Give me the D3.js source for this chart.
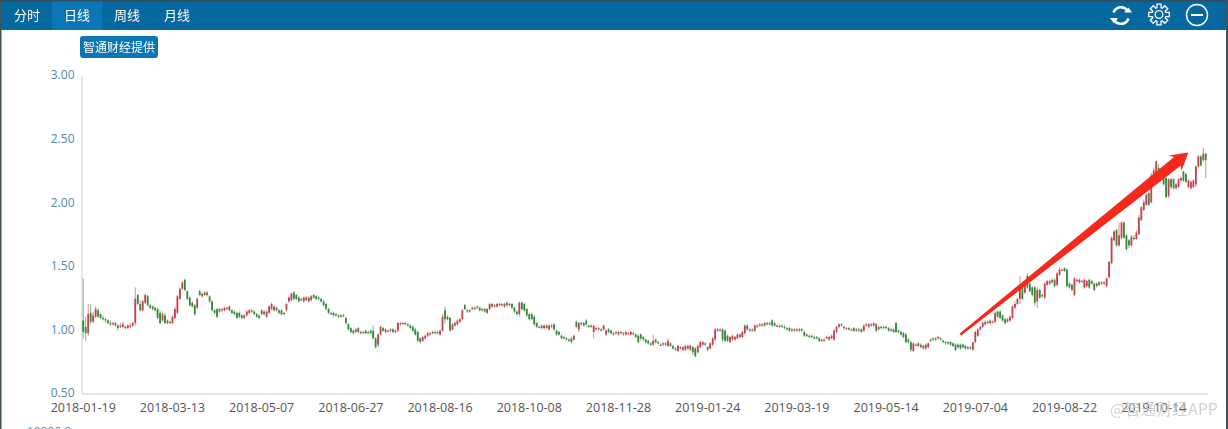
<!DOCTYPE html>
<html>
<head>
<meta charset="utf-8">
<script src="https://cdn.jsdelivr.net/npm/d3@7/dist/d3.min.js"></script>
<style>
html,body{margin:0;padding:0;background:#fff;overflow:hidden;}
#chart{width:1228px;height:429px;}
svg{display:block;font-family:"Noto Sans CJK SC","Open Sans",sans-serif;}
</style>
</head>
<body>
<div id="chart"></div>
<script>
var tabs = ["分时", "日线", "周线", "月线"];
var yTicks = [0.5, 1, 1.5, 2, 2.5, 3];
var dateLabels = ["2018-01-19","2018-03-13","2018-05-07","2018-06-27","2018-08-16","2018-10-08","2018-11-28",
    "2019-01-24","2019-03-19","2019-05-14","2019-07-04","2019-08-22","2019-10-14"];

// 20 candles per row
var opens = [
1.07,1.02,0.97,1.13,1.06,1.10,1.15,1.12,1.09,1.08,1.07,1.05,1.04,1.03,1.03,1.02,1.02,1.01,1.01,1.02,
1.03,1.05,1.27,1.20,1.15,1.21,1.26,1.19,1.18,1.17,1.16,1.13,1.07,1.11,1.07,1.05,1.05,1.09,1.13,1.24,
1.32,1.39,1.30,1.25,1.21,1.19,1.17,1.30,1.26,1.29,1.27,1.26,1.22,1.15,1.16,1.14,1.15,1.15,1.16,1.18,
1.15,1.14,1.13,1.13,1.11,1.09,1.11,1.13,1.15,1.14,1.12,1.11,1.12,1.14,1.10,1.13,1.16,1.18,1.15,1.15,
1.15,1.13,1.15,1.22,1.23,1.29,1.27,1.25,1.23,1.22,1.25,1.22,1.23,1.27,1.26,1.25,1.24,1.22,1.20,1.16,
1.13,1.13,1.12,1.11,1.11,1.11,1.09,1.04,1.01,0.99,0.98,1.01,0.97,0.97,0.99,0.98,0.99,0.99,0.93,0.88,
0.96,1.01,0.98,0.99,1.00,0.98,0.99,0.99,1.04,1.04,1.05,1.04,1.03,1.02,1.00,0.98,0.93,0.91,0.93,0.95,
0.96,0.98,0.97,0.98,0.96,0.99,1.15,1.10,1.09,1.00,1.03,1.04,1.06,1.08,1.19,1.15,1.14,1.16,1.17,1.17,
1.17,1.16,1.16,1.13,1.16,1.20,1.18,1.18,1.19,1.20,1.18,1.21,1.19,1.20,1.17,1.14,1.12,1.21,1.20,1.16,
1.12,1.12,1.10,1.05,1.02,1.03,1.01,1.03,1.00,1.02,1.04,0.99,0.98,0.95,0.94,0.93,0.92,0.93,0.92,1.06,
1.00,1.04,1.05,1.07,1.03,1.03,0.98,1.00,1.00,1.00,1.00,0.96,1.00,0.99,0.97,0.97,0.96,0.98,0.96,0.96,
0.97,0.96,0.97,0.96,0.95,0.96,0.94,0.92,0.91,0.89,0.88,0.92,0.90,0.88,0.89,0.88,0.87,0.89,0.87,0.85,
0.83,0.85,0.84,0.84,0.85,0.84,0.86,0.85,0.82,0.86,0.88,0.89,0.86,0.85,0.88,0.92,0.99,0.99,1.00,0.99,
0.95,0.90,0.92,0.92,0.93,0.94,0.94,0.97,1.03,0.99,1.00,0.99,1.02,1.03,1.04,1.03,1.05,1.04,1.07,1.05,
1.03,1.02,1.03,1.02,1.01,1.01,1.00,0.99,0.99,1.00,1.00,0.98,0.96,0.95,0.95,0.94,0.94,0.93,0.92,0.91,
0.93,0.92,0.93,0.92,0.98,1.02,1.04,1.02,1.01,1.01,1.00,1.01,1.00,0.99,1.00,0.99,1.03,1.02,1.04,1.03,
1.04,1.00,1.02,1.01,1.02,1.01,1.00,1.00,1.05,0.99,0.98,0.97,0.96,0.92,0.90,0.83,0.88,0.89,0.86,0.87,
0.85,0.86,0.92,0.92,0.92,0.93,0.93,0.91,0.90,0.90,0.90,0.89,0.88,0.88,0.88,0.88,0.87,0.86,0.86,0.84,
0.90,0.95,1.00,1.02,1.04,1.06,1.05,1.06,1.06,1.14,1.14,1.11,1.08,1.06,1.07,1.09,1.17,1.20,1.24,1.33,
1.29,1.42,1.36,1.33,1.33,1.22,1.31,1.27,1.25,1.35,1.36,1.37,1.39,1.35,1.43,1.47,1.48,1.47,1.36,1.35,
1.27,1.38,1.37,1.38,1.33,1.34,1.39,1.38,1.36,1.34,1.37,1.36,1.36,1.34,1.41,1.52,1.70,1.78,1.66,1.72,
1.84,1.74,1.70,1.66,1.72,1.71,1.75,1.86,1.94,1.98,2.07,2.00,2.20,2.23,2.27,2.24,2.22,2.19,2.05,2.18,
2.18,2.11,2.12,2.17,2.24,2.22,2.12,2.11,2.12,2.14,2.28,2.36,2.33,2.38
];
var closes = [
0.98,0.97,1.12,1.06,1.11,1.16,1.10,1.09,1.08,1.07,1.05,1.04,1.05,1.05,1.01,1.03,1.04,1.02,1.03,1.03,
1.05,1.24,1.20,1.15,1.22,1.27,1.19,1.17,1.16,1.15,1.09,1.05,1.12,1.05,1.05,1.06,1.10,1.16,1.26,1.32,
1.37,1.31,1.24,1.19,1.18,1.12,1.24,1.27,1.28,1.27,1.29,1.22,1.15,1.13,1.10,1.16,1.16,1.17,1.17,1.15,
1.13,1.12,1.09,1.10,1.09,1.11,1.14,1.15,1.14,1.12,1.10,1.09,1.15,1.12,1.14,1.18,1.20,1.15,1.17,1.13,
1.12,1.12,1.20,1.25,1.28,1.24,1.24,1.22,1.24,1.25,1.23,1.25,1.26,1.25,1.24,1.24,1.22,1.19,1.16,1.13,
1.12,1.11,1.11,1.10,1.10,1.11,1.05,1.00,0.98,0.97,1.00,0.98,0.98,0.98,0.97,0.97,0.97,0.93,0.86,0.96,
1.02,0.99,1.00,0.99,0.99,1.00,0.98,1.05,1.05,1.05,1.04,1.03,1.01,0.99,0.96,0.91,0.90,0.94,0.95,0.97,
0.97,0.97,0.98,0.97,0.99,1.10,1.08,1.08,0.99,1.04,1.05,1.07,1.08,1.15,1.16,1.14,1.15,1.17,1.16,1.18,
1.15,1.15,1.14,1.16,1.20,1.18,1.19,1.20,1.20,1.19,1.20,1.19,1.20,1.17,1.14,1.12,1.21,1.16,1.15,1.11,
1.08,1.08,1.04,1.02,1.02,1.01,1.03,1.01,1.03,1.03,1.00,0.96,0.96,0.93,0.93,0.92,0.91,0.90,0.95,1.02,
1.05,1.05,1.03,1.04,1.02,1.02,1.03,1.01,1.01,0.99,1.03,0.99,0.98,0.97,0.96,0.98,0.98,0.97,0.97,0.98,
0.97,0.98,0.96,0.94,0.90,0.93,0.92,0.90,0.89,0.88,0.91,0.90,0.89,0.88,0.89,0.89,0.91,0.87,0.85,0.84,
0.87,0.86,0.86,0.87,0.87,0.87,0.82,0.79,0.87,0.90,0.90,0.88,0.84,0.89,0.93,1.00,1.00,1.00,0.92,0.91,
0.91,0.94,0.95,0.94,0.96,0.96,0.98,1.03,1.00,1.00,0.99,1.03,1.03,1.04,1.03,1.05,1.04,1.05,1.03,1.03,
1.03,1.03,1.02,1.01,1.00,0.99,0.99,1.00,1.00,0.99,0.99,0.95,0.95,0.94,0.94,0.93,0.93,0.91,0.91,0.92,
0.94,0.94,0.95,0.99,1.02,1.04,1.03,1.01,1.01,1.00,1.00,0.99,0.99,1.00,0.98,1.03,1.04,1.04,1.03,1.05,
0.99,1.02,1.01,1.02,1.01,0.99,0.99,0.98,0.98,0.98,0.96,0.94,0.90,0.90,0.84,0.89,0.88,0.87,0.88,0.85,
0.88,0.89,0.91,0.93,0.93,0.94,0.92,0.90,0.89,0.89,0.88,0.87,0.84,0.86,0.85,0.86,0.85,0.85,0.85,0.90,
0.98,1.00,1.02,1.05,1.06,1.05,1.07,1.06,1.13,1.10,1.09,1.07,1.05,1.08,1.10,1.18,1.20,1.24,1.35,1.24,
1.37,1.33,1.30,1.27,1.21,1.31,1.25,1.26,1.36,1.38,1.38,1.39,1.34,1.44,1.47,1.47,1.46,1.34,1.33,1.31,
1.40,1.39,1.39,1.38,1.39,1.38,1.33,1.36,1.31,1.36,1.35,1.37,1.37,1.40,1.53,1.72,1.77,1.66,1.74,1.84,
1.72,1.63,1.66,1.73,1.71,1.76,1.88,1.96,2.00,2.06,1.98,2.21,2.25,2.32,2.22,2.20,2.14,2.04,2.18,2.12,
2.11,2.14,2.18,2.19,2.17,2.16,2.17,2.16,2.17,2.28,2.36,2.29,2.38,2.33
];
var highs = [
1.40,1.10,1.20,1.20,1.14,1.18,1.17,1.13,1.11,1.09,1.08,1.07,1.06,1.06,1.04,1.05,1.06,1.03,1.04,1.05,
1.06,1.33,1.28,1.23,1.23,1.28,1.27,1.20,1.19,1.18,1.17,1.15,1.14,1.13,1.08,1.07,1.11,1.18,1.27,1.33,
1.38,1.40,1.31,1.26,1.22,1.20,1.25,1.31,1.29,1.30,1.30,1.27,1.23,1.16,1.17,1.17,1.17,1.18,1.18,1.19,
1.16,1.15,1.14,1.14,1.12,1.12,1.15,1.16,1.16,1.15,1.13,1.12,1.16,1.15,1.15,1.19,1.21,1.19,1.18,1.16,
1.16,1.14,1.21,1.26,1.29,1.30,1.28,1.26,1.25,1.26,1.26,1.26,1.27,1.28,1.27,1.26,1.25,1.23,1.21,1.17,
1.14,1.14,1.13,1.12,1.12,1.12,1.10,1.05,1.02,1.00,1.01,1.02,0.99,0.99,1.00,0.99,1.00,1.03,0.94,0.97,
1.03,1.02,1.01,1.00,1.01,1.01,1.00,1.06,1.06,1.06,1.06,1.05,1.04,1.03,1.01,0.99,0.94,0.95,0.96,0.98,
0.98,0.99,0.99,0.99,1.00,1.12,1.18,1.11,1.10,1.05,1.06,1.08,1.09,1.16,1.20,1.16,1.16,1.18,1.18,1.19,
1.18,1.17,1.17,1.17,1.21,1.21,1.20,1.21,1.21,1.21,1.21,1.22,1.21,1.21,1.18,1.15,1.22,1.22,1.21,1.17,
1.13,1.13,1.11,1.06,1.03,1.04,1.04,1.04,1.04,1.04,1.05,1.00,0.99,0.96,0.95,0.94,0.93,0.94,0.96,1.07,
1.06,1.06,1.06,1.08,1.04,1.04,1.03,1.02,1.02,1.01,1.04,1.00,1.01,1.00,0.98,0.99,0.99,0.99,0.98,0.99,
0.98,0.99,0.98,0.97,0.96,0.97,0.95,0.93,0.92,0.90,0.96,0.93,0.91,0.89,0.90,0.90,0.93,0.90,0.88,0.86,
0.88,0.87,0.87,0.88,0.88,0.88,0.87,0.86,0.88,0.91,0.91,0.90,0.87,0.90,0.94,1.01,1.01,1.01,1.01,1.00,
0.96,0.95,0.96,0.95,0.97,0.97,0.99,1.04,1.04,1.01,1.01,1.04,1.04,1.05,1.05,1.06,1.06,1.06,1.08,1.06,
1.04,1.04,1.04,1.03,1.02,1.02,1.01,1.01,1.01,1.01,1.01,0.99,0.97,0.96,0.96,0.95,0.95,0.94,0.93,0.93,
0.95,0.95,0.96,1.00,1.03,1.05,1.05,1.03,1.02,1.02,1.01,1.02,1.01,1.01,1.01,1.04,1.05,1.05,1.05,1.06,
1.05,1.03,1.03,1.03,1.03,1.02,1.01,1.01,1.06,1.00,0.99,0.98,0.97,0.93,0.91,0.90,0.89,0.90,0.89,0.88,
0.89,0.90,0.93,0.94,0.94,0.95,0.94,0.92,0.91,0.91,0.91,0.90,0.89,0.89,0.89,0.89,0.88,0.87,0.87,0.90,
0.99,1.01,1.03,1.06,1.07,1.07,1.08,1.07,1.14,1.15,1.15,1.12,1.09,1.09,1.11,1.19,1.22,1.25,1.42,1.36,
1.38,1.44,1.37,1.34,1.34,1.33,1.32,1.28,1.37,1.39,1.39,1.40,1.40,1.45,1.49,1.48,1.49,1.48,1.37,1.36,
1.41,1.40,1.40,1.39,1.40,1.39,1.40,1.39,1.37,1.37,1.38,1.38,1.38,1.41,1.54,1.73,1.78,1.79,1.84,1.85,
1.85,1.75,1.71,1.74,1.74,1.78,1.90,1.97,2.02,2.07,2.08,2.23,2.27,2.33,2.30,2.25,2.23,2.20,2.19,2.19,
2.19,2.15,2.19,2.20,2.25,2.23,2.18,2.17,2.18,2.29,2.37,2.37,2.43,2.39
];
var lows = [
0.93,0.91,0.95,1.04,1.05,1.09,1.09,1.08,1.07,1.05,1.04,1.03,1.03,1.02,0.99,1.01,1.01,1.00,1.00,1.01,
1.02,1.03,1.19,1.14,1.14,1.20,1.18,1.16,1.15,1.14,1.08,1.04,1.06,1.04,1.04,1.04,1.04,1.08,1.12,1.23,
1.31,1.30,1.23,1.18,1.17,1.11,1.16,1.26,1.25,1.26,1.26,1.21,1.14,1.12,1.09,1.13,1.14,1.14,1.15,1.14,
1.12,1.11,1.08,1.09,1.08,1.08,1.10,1.12,1.13,1.11,1.09,1.08,1.11,1.11,1.09,1.12,1.15,1.14,1.14,1.12,
1.11,1.11,1.14,1.21,1.22,1.23,1.23,1.21,1.22,1.21,1.22,1.21,1.22,1.24,1.23,1.23,1.21,1.18,1.15,1.12,
1.11,1.10,1.10,1.09,1.09,1.10,1.04,0.99,0.97,0.96,0.97,0.97,0.96,0.96,0.96,0.96,0.96,0.92,0.85,0.86,
0.95,0.98,0.97,0.98,0.98,0.97,0.97,0.98,1.03,1.04,1.03,1.02,1.00,0.98,0.95,0.90,0.89,0.90,0.92,0.94,
0.95,0.96,0.96,0.96,0.95,0.98,1.05,1.07,0.98,0.99,1.02,1.03,1.05,1.07,1.15,1.13,1.13,1.15,1.15,1.16,
1.14,1.14,1.13,1.12,1.15,1.17,1.17,1.17,1.18,1.18,1.17,1.18,1.18,1.16,1.13,1.11,1.10,1.15,1.14,1.10,
1.07,1.07,1.03,1.01,1.01,1.00,1.00,1.00,0.99,1.01,0.99,0.95,0.95,0.92,0.92,0.91,0.90,0.89,0.91,1.01,
0.98,1.03,1.02,1.02,1.01,1.01,0.93,0.99,0.99,0.98,0.99,0.95,0.97,0.96,0.95,0.96,0.95,0.96,0.95,0.95,
0.96,0.95,0.95,0.93,0.89,0.91,0.91,0.89,0.88,0.87,0.87,0.89,0.88,0.87,0.87,0.87,0.86,0.86,0.84,0.83,
0.82,0.84,0.83,0.83,0.84,0.83,0.80,0.78,0.81,0.85,0.87,0.87,0.83,0.84,0.87,0.91,0.98,0.98,0.90,0.90,
0.90,0.89,0.91,0.91,0.92,0.93,0.93,0.96,0.99,0.98,0.98,0.98,1.01,1.02,1.02,1.02,1.03,1.03,1.02,1.02,
1.02,1.01,1.01,1.00,0.99,0.98,0.98,0.98,0.98,0.98,0.98,0.94,0.94,0.93,0.93,0.92,0.92,0.90,0.90,0.90,
0.92,0.91,0.92,0.91,0.97,1.01,1.02,1.00,1.00,0.99,0.99,0.98,0.98,0.98,0.97,0.98,1.02,1.01,1.02,1.02,
0.98,0.99,1.00,1.00,1.00,0.98,0.98,0.97,0.97,0.97,0.95,0.93,0.89,0.89,0.82,0.82,0.87,0.86,0.85,0.84,
0.84,0.85,0.90,0.91,0.91,0.92,0.91,0.89,0.88,0.88,0.87,0.86,0.83,0.85,0.84,0.85,0.84,0.84,0.84,0.83,
0.89,0.94,0.99,1.01,1.03,1.04,1.04,1.05,1.05,1.09,1.08,1.06,1.04,1.05,1.06,1.08,1.16,1.19,1.20,1.23,
1.28,1.32,1.29,1.26,1.19,1.17,1.24,1.25,1.24,1.34,1.35,1.36,1.33,1.34,1.42,1.46,1.45,1.33,1.32,1.30,
1.26,1.37,1.36,1.37,1.32,1.33,1.32,1.35,1.30,1.33,1.34,1.35,1.35,1.33,1.40,1.51,1.69,1.65,1.65,1.71,
1.71,1.62,1.64,1.65,1.70,1.70,1.74,1.85,1.93,1.97,1.97,1.99,2.19,2.22,2.21,2.19,2.13,2.03,2.03,2.10,
2.10,2.10,2.11,2.15,2.16,2.15,2.11,2.10,2.11,2.12,2.27,2.28,2.32,2.19
];

// trend arrow drawn over the candles, in index / price terms
var arrowFrom = {index: 354, price: 0.96};
var arrowTo = {index: 446, price: 2.39};

var red = "#c4404a", green = "#33883a", blue = "#0a76b5", bar = "#05689f";

var svg = d3.select("#chart").append("svg").attr("width", 1228).attr("height", 429);
svg.append("rect").attr("width", 1228).attr("height", 429).attr("fill", "#fff");

var x = d3.scaleBand().domain(d3.range(opens.length)).range([82, 1207]);
var y = d3.scaleLinear().domain([0.5, 3]).range([393, 75]);

// axes
var yAxis = svg.append("g").attr("transform", "translate(81.5,0)")
    .call(d3.axisLeft(y).tickValues(yTicks).tickFormat(d3.format(".2f")).tickSize(0).tickPadding(7));
yAxis.select(".domain").attr("stroke", "#ccc");
yAxis.selectAll("text").attr("fill", "#4f88b5").attr("font-size", 12).attr("font-family", "'Open Sans',sans-serif");

var xAxis = svg.append("g").attr("transform", "translate(0,393.5)")
    .call(d3.axisBottom(x)
        .tickValues(dateLabels.map(function(d, i){ return i*36; }))
        .tickFormat(function(d){ return dateLabels[d/36]; })
        .tickSize(0).tickPadding(10));
xAxis.select(".domain").attr("stroke", "#ccc");
xAxis.selectAll("text").attr("fill", "#555").attr("font-size", 12.5).attr("font-family", "'Open Sans',sans-serif");

// candles
var candles = svg.append("g").style("filter", "blur(0.5px)")
    .selectAll("g").data(opens).enter().append("g")
    .attr("transform", function(d, i){ return "translate(" + (x(i) + x.bandwidth()/2) + ",0)"; });
function col(i){ return closes[i] >= opens[i] ? red : green; }
candles.append("line")
    .attr("y1", function(d, i){ return y(highs[i]); })
    .attr("y2", function(d, i){ return y(lows[i]); })
    .attr("stroke", function(d, i){ return col(i); })
    .attr("stroke-opacity", 0.6);
candles.append("rect")
    .attr("x", -0.9).attr("width", 1.8)
    .attr("y", function(d, i){ return Math.min(y(opens[i]), y(closes[i])); })
    .attr("height", function(d, i){ return Math.max(1.2, Math.abs(y(opens[i]) - y(closes[i]))); })
    .attr("fill", function(d, i){ return col(i); });

// arrow
var ax = x(arrowFrom.index) + x.bandwidth()/2, ay = y(arrowFrom.price);
var bx = x(arrowTo.index) + x.bandwidth()/2, by = y(arrowTo.price);
var len = Math.hypot(bx - ax, by - ay), ux = (bx - ax)/len, uy = (by - ay)/len, nx = -uy, ny = ux;
function pt(along, side){ return [ax + ux*along + nx*side, ay + uy*along + ny*side]; }
svg.append("polygon").attr("fill", "#f5281c")
    .attr("points", [pt(0, 1.2), pt(len - 14, 5.5), pt(len - 17, 10), pt(len, 0), pt(len - 17, -10), pt(len - 14, -5.5), pt(0, -1.2)].join(" "));

// top bar
svg.append("rect").attr("width", 1228).attr("height", 30).attr("fill", bar);
svg.append("rect").attr("width", 1228).attr("height", 1.5).attr("fill", "#2f4f60");
svg.append("rect").attr("x", 52).attr("y", 1.5).attr("width", 50).attr("height", 28.5).attr("fill", blue);
svg.selectAll(".tab").data(tabs).enter().append("text").attr("class", "tab")
    .attr("x", function(d, i){ return 27 + i*50; })
    .attr("y", 20).attr("text-anchor", "middle")
    .attr("font-size", 13).attr("fill", "#fff").text(function(d){ return d; });

// source tag
svg.append("rect").attr("x", 80).attr("y", 36).attr("width", 78).attr("height", 22).attr("rx", 3).attr("fill", blue);
svg.append("text").attr("x", 119).attr("y", 52).attr("text-anchor", "middle")
    .attr("font-size", 12).attr("fill", "#fff").text("智通财经提供");

// toolbar icons
var icons = svg.append("g").attr("fill", "none").attr("stroke", "#fff");
icons.append("path").attr("stroke-width", 2.6)
    .attr("d", "M1113.5 12.5A8 8 0 0 1 1127.5 10.5M1128.5 18.5A8 8 0 0 1 1114.5 20.5");
icons.append("path").attr("fill", "#fff").attr("stroke", "none").attr("d", "M1124 12.5L1132 12.5L1128.500 7.500ZM1110 18L1118 18L1114 23.500Z");
var gear = [];
d3.range(8).forEach(function(k){
    var a = k*Math.PI/4;
    [[-0.3,7],[-0.2,10.500],[0.2,10.500],[0.3,7]].forEach(function(p){
        gear.push([1159 + p[1]*Math.sin(a + p[0]), 14.500 - p[1]*Math.cos(a + p[0])]);
    });
});
icons.append("path").attr("stroke-width", 1.3).attr("d", "M" + gear.join("L") + "Z");
icons.append("circle").attr("cx", 1159).attr("cy", 14.500).attr("r", 3.8).attr("stroke-width", 1.3);
icons.append("circle").attr("cx", 1197).attr("cy", 15).attr("r", 10.500).attr("stroke-width", 1.5);
icons.append("line").attr("x1", 1191).attr("x2", 1203).attr("y1", 15).attr("y2", 15).attr("stroke-width", 2);

// clipped volume label at the bottom edge
svg.append("text").attr("x", 27).attr("y", 436).attr("font-size", 12).attr("fill", "#4f88b5")
    .attr("font-family", "'Open Sans',sans-serif").text("10000.0");

// watermark
svg.append("text").attr("x", 1110).attr("y", 415).attr("font-size", 15.5).attr("letter-spacing", 0.3)
    .attr("fill", "#c9c9c9").attr("fill-opacity", 0.85).text("@智通财经APP");

// window edges
svg.append("rect").attr("width", 1.5).attr("height", 429).attr("fill", "#45525a");
svg.append("rect").attr("x", 1226).attr("width", 2).attr("height", 429).attr("fill", "#45525a");
</script>
</body>
</html>
